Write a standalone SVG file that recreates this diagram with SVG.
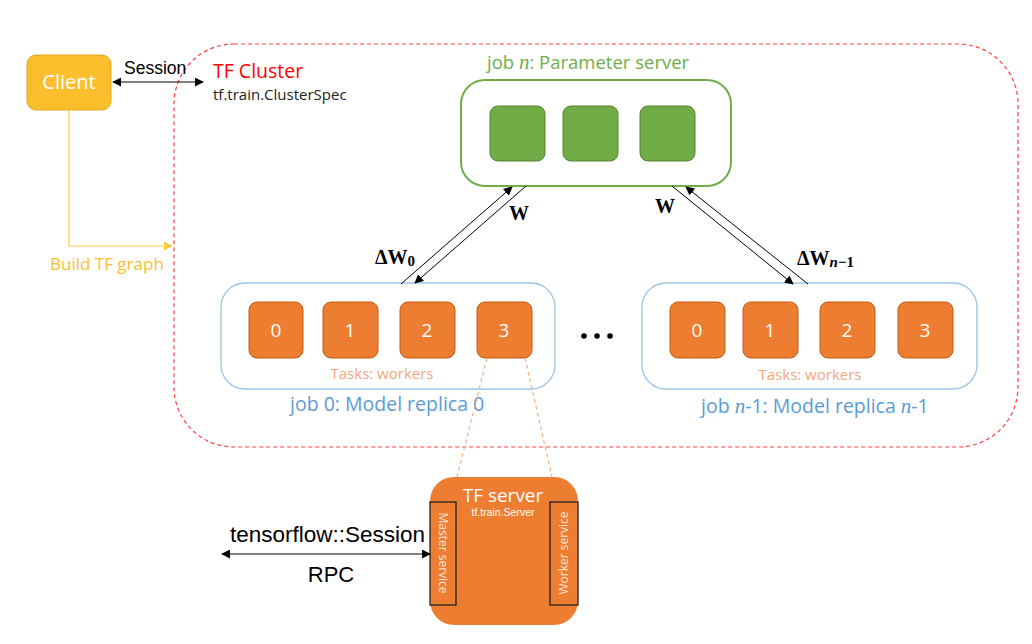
<svg xmlns="http://www.w3.org/2000/svg" width="1032" height="644" viewBox="0 0 1032 644">
<defs>
<style>
.sans{font-family:"Liberation Sans",Arial,sans-serif}
.cal{font-family:"Open Sans","Liberation Sans",sans-serif}
.math{font-family:"Liberation Serif","DejaVu Serif",serif;font-weight:bold}
.task{fill:#ED7D31;stroke:#C55A11;stroke-width:1}
.ps{fill:#70AD47;stroke:#548235;stroke-width:1}
.tasknum{font-family:"Open Sans","Liberation Sans",sans-serif;font-size:19px;fill:#fff;text-anchor:middle}
.blk{stroke:#000;stroke-width:1;fill:none}
</style>
<marker id="ah" viewBox="0 0 10 10" refX="9" refY="5" markerWidth="9" markerHeight="9" markerUnits="userSpaceOnUse" orient="auto-start-reverse">
<path d="M0,0 L10,5 L0,10 z" fill="#000"/>
</marker>
<marker id="ahy" viewBox="0 0 10 10" refX="9" refY="5" markerWidth="9" markerHeight="9" markerUnits="userSpaceOnUse" orient="auto">
<path d="M0,0 L10,5 L0,10 z" fill="#FFC845"/>
</marker>
</defs>
<rect width="1032" height="644" fill="#fff"/>

<g id="cluster">
<rect x="174" y="44" width="844" height="403" rx="60" ry="60" fill="none" stroke="#FF0000" stroke-opacity="0.75" stroke-width="1.2" stroke-dasharray="4,3"/>
<text x="213" y="78" class="cal" font-size="19.5" fill="#FF0000">TF Cluster</text>
<text x="213" y="100" class="cal" font-size="15" fill="#222">tf.train.ClusterSpec</text>
</g>

<g id="client">
<rect x="27" y="55" width="84" height="55" rx="9" fill="#FBBF2D" stroke="#E0A81E" stroke-width="1"/>
<text x="69" y="89" class="cal" font-size="20" fill="#fff" text-anchor="middle">Client</text>
</g>

<g id="param-server">
<text x="487" y="69" class="cal" font-size="18.5" fill="#70AD47">job <tspan font-family="Liberation Serif,serif" font-style="italic" font-size="21">n</tspan>: Parameter server</text>
<rect x="461" y="80" width="270" height="106" rx="24" fill="#fff" stroke="#70AD47" stroke-width="2"/>
<rect x="490" y="106" width="55" height="55" rx="8" class="ps"/>
<rect x="563" y="106" width="55" height="55" rx="8" class="ps"/>
<rect x="640" y="106" width="55" height="55" rx="8" class="ps"/>
</g>

<g id="worker-job-0">
<rect x="221" y="283" width="334" height="106" rx="24" fill="#fff" stroke="#9DC3E6" stroke-width="1.3"/>
<rect x="249" y="302" width="54" height="56" rx="8" class="task"/>
<rect x="323" y="302" width="55" height="56" rx="8" class="task"/>
<rect x="400" y="302" width="55" height="56" rx="8" class="task"/>
<rect x="477" y="302" width="55" height="56" rx="8" class="task"/>
<text x="276" y="337" class="tasknum">0</text>
<text x="350" y="337" class="tasknum">1</text>
<text x="427" y="337" class="tasknum">2</text>
<text x="504" y="337" class="tasknum">3</text>
<text x="382" y="379" class="cal" font-size="15" fill="#F4A77A" text-anchor="middle">Tasks: workers</text>
<text x="290" y="411" class="cal" font-size="19.5" fill="#5B9BD5">job 0: Model replica 0</text>
</g>

<g id="ellipsis">
<circle cx="584" cy="336" r="2.8" fill="#000"/>
<circle cx="597" cy="336" r="2.8" fill="#000"/>
<circle cx="610" cy="336" r="2.8" fill="#000"/>
</g>

<g id="worker-job-n-1">
<rect x="642" y="283" width="335" height="106" rx="24" fill="#fff" stroke="#9DC3E6" stroke-width="1.3"/>
<rect x="670" y="302" width="55" height="56" rx="8" class="task"/>
<rect x="743" y="302" width="55" height="56" rx="8" class="task"/>
<rect x="820" y="302" width="55" height="56" rx="8" class="task"/>
<rect x="898" y="302" width="55" height="56" rx="8" class="task"/>
<text x="697" y="337" class="tasknum">0</text>
<text x="770" y="337" class="tasknum">1</text>
<text x="847" y="337" class="tasknum">2</text>
<text x="925" y="337" class="tasknum">3</text>
<text x="810" y="380" class="cal" font-size="15" fill="#F4A77A" text-anchor="middle">Tasks: workers</text>
<text x="701" y="413" class="cal" font-size="19.5" fill="#5B9BD5">job <tspan font-family="Liberation Serif,serif" font-style="italic" font-size="21">n</tspan>-1: Model replica <tspan font-family="Liberation Serif,serif" font-style="italic" font-size="21">n</tspan>-1</text>
</g>

<g id="tf-server">
<rect x="430" y="477" width="148" height="148" rx="24" fill="#ED7D31"/>
<text x="503" y="502" class="cal" font-size="19" fill="#fff" text-anchor="middle">TF server</text>
<text x="503" y="516" class="sans" font-size="10.5" fill="#fff" text-anchor="middle">tf.train.Server</text>
<rect x="430" y="502" width="26" height="103" fill="none" stroke="#222" stroke-width="1.3"/>
<rect x="550" y="502" width="28" height="103" fill="none" stroke="#222" stroke-width="1.3"/>
<text transform="translate(439,553) rotate(90)" class="cal" font-size="12" fill="#FBE5D6" text-anchor="middle">Master service</text>
<text transform="translate(568,553) rotate(-90)" class="cal" font-size="12" fill="#FBE5D6" text-anchor="middle">Worker service</text>
</g>

<g id="connectors">
<line x1="113" y1="82" x2="203" y2="82" class="blk" marker-start="url(#ah)" marker-end="url(#ah)"/>
<text x="124" y="74" class="sans" font-size="17.5" fill="#000">Session</text>
<polyline points="69,110 69,246 172,246" fill="none" stroke="#FFC845" stroke-width="1.2" marker-end="url(#ahy)"/>
<text x="50" y="270" class="cal" font-size="17" fill="#FBBF2D">Build TF graph</text>

<line x1="401" y1="284" x2="512" y2="187" class="blk" marker-end="url(#ah)"/>
<line x1="526" y1="186" x2="415" y2="283" class="blk" marker-end="url(#ah)"/>
<line x1="672" y1="186" x2="793" y2="284" class="blk" marker-end="url(#ah)"/>
<line x1="808" y1="284" x2="686" y2="187" class="blk" marker-end="url(#ah)"/>
<text x="509" y="220" class="math" font-size="20" fill="#000">W</text>
<text x="655" y="213" class="math" font-size="20" fill="#000">W</text>
<text x="375" y="264" class="math" font-size="20" fill="#000">ΔW<tspan font-size="15" dy="2">0</tspan></text>
<text x="797" y="265" class="math" font-size="20" fill="#000">ΔW<tspan font-size="15" dy="2"><tspan font-style="italic">n</tspan>−1</tspan></text>

<line x1="487" y1="358" x2="457" y2="477" stroke="#F4B183" stroke-width="1.2" stroke-dasharray="4,3"/>
<line x1="525" y1="358" x2="552" y2="477" stroke="#F4B183" stroke-width="1.2" stroke-dasharray="4,3"/>

<line x1="222" y1="554" x2="430" y2="554" class="blk" marker-start="url(#ah)" marker-end="url(#ah)"/>
<text x="230" y="542" class="sans" font-size="22.5" fill="#000">tensorflow::Session</text>
<text x="331" y="582" class="sans" font-size="22" fill="#000" text-anchor="middle">RPC</text>
</g>
</svg>
